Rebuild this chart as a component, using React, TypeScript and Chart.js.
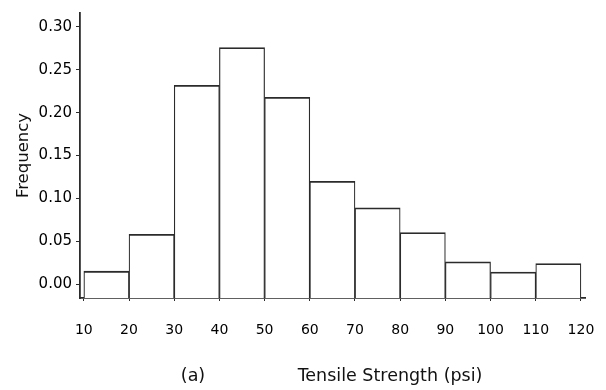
import React, { useEffect, useRef } from "react";
import { Chart, registerables } from "chart.js";

Chart.register(...registerables);

// Bin lower edges (psi) and bin width
const binStarts = [10, 20, 30, 40, 50, 60, 70, 80, 90, 100, 110];
const binWidth = 10;
// Relative frequency per bin
const frequencies = [0.015, 0.058, 0.232, 0.276, 0.218, 0.12, 0.089, 0.06, 0.026, 0.014, 0.024];
// Axis ticks
const xTickStep = 10;
const yTickStep = 0.05;
const xMin = 9.15;
const xMax = 120.9;
const yMin = -0.0163;
const yMax = 0.3163;

const panelLabel = "(a)";
const xTitle = "Tensile Strength (psi)";
const yTitle = "Frequency";

const INK = "#2b2b2b";
const FONT = "'DejaVu Sans', sans-serif";

export default function App() {
  const ref = useRef<HTMLCanvasElement | null>(null);

  useEffect(() => {
    if (!ref.current) return;
    const data = binStarts.map((s, i) => ({ x: s + binWidth / 2, y: frequencies[i] }));

    const titlePlugin = {
      id: "bottomTitles",
      afterDraw(chart: any) {
        const ctx = chart.ctx as CanvasRenderingContext2D;
        ctx.save();
        ctx.fillStyle = "#111";
        ctx.font = `17.5px ${FONT}`;
        ctx.textAlign = "center";
        ctx.textBaseline = "middle";
        ctx.fillText(panelLabel, 193, 376);
        ctx.fillText(xTitle, 390, 376);
        ctx.restore();
      },
    };

    const chart = new Chart(ref.current, {
      type: "bar",
      data: {
        datasets: [
          {
            data,
            base: yMin,
            backgroundColor: "#ffffff",
            borderColor: INK,
            borderWidth: { top: 1.8, left: 1.2, right: 1.2, bottom: 0 },
            borderSkipped: false,
            barPercentage: 1,
            categoryPercentage: 1,
          } as any,
        ],
      },
      options: {
        responsive: false,
        animation: false,
        layout: { padding: { top: 12, right: 21, bottom: 0, left: 0 } },
        plugins: { legend: { display: false }, tooltip: { enabled: false } },
        scales: {
          x: {
            type: "linear",
            offset: false,
            min: xMin,
            max: xMax,
            afterFit: (s: any) => {
              s.height = 92;
              s.paddingLeft = 0;
              s.paddingRight = 0;
            },
            grid: { offset: false, drawOnChartArea: false, drawTicks: true, tickLength: 3, color: INK },
            border: { display: true, color: INK, width: 1.8 },
            ticks: {
              stepSize: xTickStep,
              includeBounds: false,
              color: "#000",
              font: { family: FONT, size: 14 },
              padding: 21,
              maxRotation: 0,
              autoSkip: false,
            },
          },
          y: {
            type: "linear",
            min: yMin,
            max: yMax,
            afterFit: (s: any) => {
              s.width = 80;
            },
            grid: { drawOnChartArea: false, drawTicks: true, tickLength: 4, color: INK },
            border: { display: true, color: INK, width: 1.8 },
            ticks: {
              stepSize: yTickStep,
              includeBounds: false,
              color: "#000",
              font: { family: FONT, size: 15 },
              padding: 4,
              callback: (v: any) => Number(v).toFixed(2),
            },
            title: {
              display: true,
              text: yTitle,
              color: "#111",
              font: { family: FONT, size: 16.5 },
              padding: { top: 14, bottom: 0 },
            },
          },
        },
      },
      plugins: [titlePlugin],
    });
    return () => chart.destroy();
  }, []);

  return (
    <div style={{ position: "fixed", left: 0, top: 0, width: 606, height: 390, background: "#fff" }}>
      <canvas ref={ref} width={606} height={390} style={{ display: "block" }} />
    </div>
  );
}
